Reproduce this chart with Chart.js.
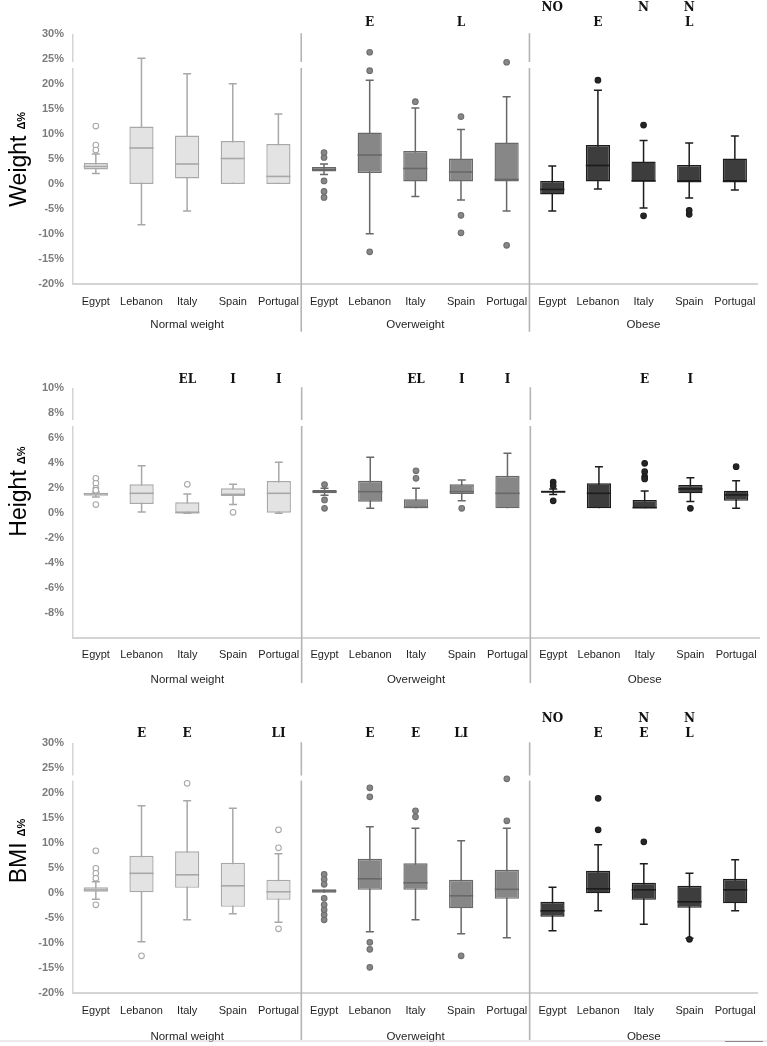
<!DOCTYPE html>
<html>
<head>
<meta charset="utf-8">
<script src="https://cdn.jsdelivr.net/npm/chart.js@4.4.1/dist/chart.umd.min.js"></script>
<style>
html, body { margin:0; padding:0; background:#fff; width:767px; height:1046px; overflow:hidden; }
.panel { position:absolute; left:0; width:767px; }
</style>
</head>
<body>
<div class="panel" style="top:0px;height:340px"><canvas id="c1"></canvas></div>
<div class="panel" style="top:340px;height:355px"><canvas id="c2"></canvas></div>
<div class="panel" style="top:695px;height:351px"><canvas id="c3"></canvas></div>
<script>
// ---------- categories ----------
const categories = ['Egypt', 'Lebanon', 'Italy', 'Spain', 'Portugal'];
const groupNames = ['Normal weight', 'Overweight', 'Obese'];
const yTitleUnit = 'Δ%';

// ---------- Weight Δ% ----------
const weightTitle = 'Weight';
const weightRange = [-20, 30, 5];
const weightTicks = ['-20%', '-15%', '-10%', '-5%', '0%', '5%', '10%', '15%', '20%', '25%', '30%'];
const weightMin    = [2.1, -8.2, -5.4, 0, 0,    1.9, -10.0, -2.5, -3.2, -5.4,   -5.4, -1.0, -4.8, -2.8, -1.2];
const weightQ1     = [2.9, 0, 1.1, 0, 0,        2.5, 2.2, 0.5, 0.5, 0.5,        -2.1, 0.5, 0.5, 0.5, 0.5];
const weightMedian = [3.5, 7.2, 4.0, 5.1, 1.5,  2.9, 5.8, 3.1, 2.4, 0.9,        -1.1, 3.7, 0.6, 0.5, 0.5];
const weightQ3     = [4.2, 11.5, 9.7, 8.6, 8.0, 3.4, 10.3, 6.6, 5.1, 8.3,       0.6, 7.8, 4.5, 3.8, 5.1];
const weightMax    = [6.0, 25.2, 22.1, 20.1, 14.0, 4.0, 20.8, 15.2, 10.9, 17.5, 3.6, 18.8, 8.7, 8.2, 9.6];
const weightOutliers = [
  [6.8, 7.8, 11.6], [], [], [], [],
  [6.3, 5.3, 0.6, -1.5, -2.7], [22.7, 26.4, -13.6], [16.5], [13.5, -6.3, -9.8], [24.4, -12.3],
  [], [20.8], [11.8, -6.4], [-5.3, -6.1], []
];
const weightSigTop    = ['', '', '', '', '',  '', '', '', '', '',   'NO', '', 'N', 'N', ''];
const weightSigBottom = ['', '', '', '', '',  '', 'E', '', 'L', '', '', 'E', '', 'L', ''];

// ---------- Height Δ% ----------
const heightTitle = 'Height';
const heightRange = [-10, 10, 2];
const heightTicks = ['', '-8%', '-6%', '-4%', '-2%', '0%', '2%', '4%', '6%', '8%', '10%'];
const heightMin    = [1.3, 0.1, 0, 0.7, 0,        1.45, 0.4, 0.4, 1.0, 0.4,    1.5, 0.4, 0.4, 0.95, 0.4];
const heightQ1     = [1.4, 0.75, 0.05, 1.38, 0.05, 1.6, 0.93, 0.4, 1.55, 0.4,  1.65, 0.4, 0.4, 1.6, 1.0];
const heightMedian = [1.55, 1.6, 0.05, 1.52, 1.6, 1.73, 1.73, 0.48, 1.73, 1.6, 1.73, 1.6, 0.45, 1.95, 1.47];
const heightQ3     = [1.65, 2.32, 0.88, 2.0, 2.58, 1.87, 2.6, 1.12, 2.32, 3.0, 1.8, 2.4, 1.07, 2.27, 1.81];
const heightMax    = [1.7, 3.8, 1.55, 2.32, 4.08, 2.0, 4.48, 2.0, 2.67, 4.8,   1.95, 3.73, 1.79, 2.85, 2.6];
const heightOutliers = [
  [1.85, 2.0, 2.4, 2.8, 0.7], [], [2.32], [0.08], [],
  [2.3, 1.07, 0.4], [], [2.8, 3.4], [0.4], [],
  [2.2, 2.5, 1.0], [], [2.75, 2.93, 3.33, 4.0], [0.4], [3.73]
];
const heightSigTop    = ['', '', '', '', '',  '', '', '', '', '',  '', '', '', '', ''];
const heightSigBottom = ['', '', 'EL', 'I', 'I',  '', '', 'EL', 'I', 'I',  '', '', 'E', 'I', ''];

// ---------- BMI Δ% ----------
const bmiTitle = 'BMI';
const bmiRange = [-20, 30, 5];
const bmiTicks = ['-20%', '-15%', '-10%', '-5%', '0%', '5%', '10%', '15%', '20%', '25%', '30%'];
const bmiMin    = [-1.2, -9.7, -5.3, -4.1, -5.8,  0.13, -7.7, -5.3, -8.1, -8.9,  -7.5, -3.5, -6.2, -9.0, -3.5];
const bmiQ1     = [0.33, 0.2, 1.1, -2.7, -1.3,    0.13, 0.7, 0.7, -3.0, -1.1,    -4.7, 0, -1.3, -2.9, -2.0];
const bmiMedian = [0.67, 4.0, 3.7, 1.5, 0.3,      0.47, 2.9, 2.1, -0.5, 0.8,     -3.5, 0.9, 0.7, -1.7, 0.7];
const bmiQ3     = [1.2, 7.5, 8.4, 6.1, 2.7,       0.8, 6.9, 6.0, 2.7, 4.7,       -1.7, 4.5, 2.1, 1.5, 2.9];
const bmiMax    = [2.3, 17.5, 18.5, 17.0, 7.9,    0.8, 13.3, 13.0, 10.5, 13.0,   1.2, 9.7, 5.9, 4.0, 6.7];
const bmiOutliers = [
  [3.0, 4.0, 5.0, 8.5, -2.3], [-12.5], [22.0], [], [9.1, 12.7, -7.1],
  [1.8, 2.8, 3.8, -1.0, -2.3, -3.3, -4.3, -5.3], [19.3, 21.1, -9.8, -11.2, -14.8], [15.3, 16.5], [-12.5], [14.5, 22.9],
  [], [12.7, 19.0], [10.3], [-9.2], []
];
const bmiSigTop    = ['', '', '', '', '',  '', '', '', '', '',  'NO', '', 'N', 'N', ''];
const bmiSigBottom = ['', 'E', 'E', '', 'LI',  '', 'E', 'E', 'LI', '',  '', 'E', 'E', 'L', ''];

// ---------- styles ----------
const groupFill   = ['#e3e3e3', '#878787', '#3d3d3d'];
const groupStroke = ['#a8a8a8', '#686868', '#1c1c1c'];
const outFill     = ['#ffffff', '#878787', '#262626'];
const outStroke   = ['#a8a8a8', '#6e6e6e', '#1c1c1c'];
const SANS = "'Liberation Sans', Arial, sans-serif";

const xLabels = groupNames.flatMap(() => categories);
const groupRow = groupNames.flatMap(name => categories.map((c, j) => (j === Math.floor(categories.length / 2) ? name : '')));

const panels = [
  { canvas: 'c1', H: 340, top: 34.3, bottom: 283.7, dc: 18, dg: 41.3, titleY: 206.7, sigRows: [-26, -11.3],
    breakY: [62, 68], sepDown: 48, bottomLine: null,
    title: weightTitle, range: weightRange, ticks: weightTicks,
    min: weightMin, q1: weightQ1, med: weightMedian, q3: weightQ3, max: weightMax, outliers: weightOutliers,
    sigTop: weightSigTop, sigBottom: weightSigBottom },
  { canvas: 'c2', H: 355, top: 48.3, bottom: 298.3, dc: 16.7, dg: 41.7, titleY: 196.7, sigRows: [-23, -8.3],
    breakY: [80, 86], sepDown: 44.7, bottomLine: null,
    title: heightTitle, range: heightRange, ticks: heightTicks,
    min: heightMin, q1: heightQ1, med: heightMedian, q3: heightQ3, max: heightMax, outliers: heightOutliers,
    sigTop: heightSigTop, sigBottom: heightSigBottom },
  { canvas: 'c3', H: 351, top: 48.3, bottom: 298.3, dc: 17.7, dg: 43.4, titleY: 188.3, sigRows: [-24.3, -9.3],
    breakY: [80.5, 85.5], sepDown: 46.7, bottomLine: 346,
    title: bmiTitle, range: bmiRange, ticks: bmiTicks,
    min: bmiMin, q1: bmiQ1, med: bmiMedian, q3: bmiQ3, max: bmiMax, outliers: bmiOutliers,
    sigTop: bmiSigTop, sigBottom: bmiSigBottom }
];

const grp = i => Math.floor(i / categories.length);

function boxPlugin(p, boxIndex) {
  return {
    id: 'boxplot_' + p.canvas,
    beforeDatasetsDraw(chart) {
      const { ctx, scales: { x, y } } = chart;
      ctx.save();
      ctx.lineWidth = 1.5;
      for (let i = 0; i < p.min.length; i++) {
        const cx = x.getPixelForValue(i);
        ctx.strokeStyle = groupStroke[grp(i)];
        ctx.beginPath();
        const yMin = y.getPixelForValue(p.min[i]);
        const yMax = y.getPixelForValue(p.max[i]);
        ctx.moveTo(cx, yMin); ctx.lineTo(cx, yMax);
        if (p.min[i] < p.q1[i]) { ctx.moveTo(cx - 4, yMin); ctx.lineTo(cx + 4, yMin); }
        if (p.max[i] > p.q3[i]) { ctx.moveTo(cx - 4, yMax); ctx.lineTo(cx + 4, yMax); }
        ctx.stroke();
      }
      ctx.restore();
    },
    afterDatasetDraw(chart, args) {
      if (args.index !== boxIndex) return;
      const { ctx, scales: { y } } = chart;
      const meta = chart.getDatasetMeta(boxIndex);
      ctx.save();
      ctx.lineWidth = 1.6;
      meta.data.forEach((el, i) => {
        const ym = y.getPixelForValue(p.med[i]);
        ctx.strokeStyle = groupStroke[grp(i)];
        ctx.beginPath();
        ctx.moveTo(el.x - el.width / 2, ym); ctx.lineTo(el.x + el.width / 2, ym);
        ctx.stroke();
      });
      ctx.restore();
    },
    afterDraw(chart) {
      const { ctx, chartArea: a, scales: { x } } = chart;
      ctx.save();
      // group separators
      const seps = [];
      for (let gi = 1; gi < groupNames.length; gi++) {
        const k = gi * categories.length;
        seps.push((x.getPixelForValue(k - 1) + x.getPixelForValue(k)) / 2);
      }
      ctx.strokeStyle = '#b4b4b4'; ctx.lineWidth = 1.6;
      seps.forEach(sx => { ctx.beginPath(); ctx.moveTo(sx, a.top - 1); ctx.lineTo(sx, a.bottom + p.sepDown); ctx.stroke(); });
      // axis break gaps
      ctx.fillStyle = '#ffffff';
      [a.left, ...seps].forEach(bx => ctx.fillRect(bx - 3, p.breakY[0], 6, p.breakY[1] - p.breakY[0]));
      // significance letters
      ctx.font = "bold 12px 'DejaVu Serif', serif";
      ctx.fillStyle = '#111'; ctx.textAlign = 'center'; ctx.textBaseline = 'middle';
      for (let i = 0; i < p.sigTop.length; i++) {
        const cx = x.getPixelForValue(i);
        if (p.sigTop[i]) ctx.fillText(p.sigTop[i], cx, a.top + p.sigRows[0]);
        if (p.sigBottom[i]) ctx.fillText(p.sigBottom[i], cx, a.top + p.sigRows[1]);
      }
      // bottom rule
      if (p.bottomLine) {
        ctx.strokeStyle = '#d6d6d6'; ctx.lineWidth = 1;
        ctx.beginPath(); ctx.moveTo(0, p.bottomLine); ctx.lineTo(767, p.bottomLine); ctx.stroke();
        ctx.strokeStyle = '#8a8a8a';
        ctx.beginPath(); ctx.moveTo(725, p.bottomLine + 0.5); ctx.lineTo(763, p.bottomLine + 0.5); ctx.stroke();
      }
      // y title
      ctx.translate(26, p.titleY);
      ctx.rotate(-Math.PI / 2);
      ctx.textAlign = 'left'; ctx.textBaseline = 'alphabetic'; ctx.fillStyle = '#000';
      ctx.font = '23px ' + SANS;
      ctx.fillText(p.title, 0, 0);
      const w = ctx.measureText(p.title).width;
      ctx.font = 'bold 11px ' + SANS;
      ctx.fillText(yTitleUnit, w + 6, -1.5);
      ctx.restore();
    }
  };
}

function build(p) {
  const maxOut = Math.max(...p.outliers.map(o => o.length));
  const datasets = [];
  for (let k = 0; k < maxOut; k++) {
    datasets.push({
      type: 'line', showLine: false,
      data: p.outliers.map(o => (k < o.length ? o[k] : null)),
      pointRadius: 2.8, pointHoverRadius: 2.8, pointBorderWidth: 1.1,
      pointBackgroundColor: xLabels.map((_, i) => outFill[grp(i)]),
      pointBorderColor: xLabels.map((_, i) => outStroke[grp(i)])
    });
  }
  const boxIndex = datasets.length;
  datasets.push({
    type: 'bar',
    data: p.q1.map((v, i) => [v, p.q3[i]]),
    backgroundColor: xLabels.map((_, i) => groupFill[grp(i)]),
    borderColor: xLabels.map((_, i) => groupStroke[grp(i)]),
    borderWidth: 1.4, borderSkipped: false,
    barPercentage: 0.53, categoryPercentage: 1.0, grouped: false
  });
  const h1 = 26;
  new Chart(document.getElementById(p.canvas), {
    type: 'bar',
    data: { labels: xLabels, datasets },
    options: {
      responsive: true, maintainAspectRatio: false, animation: false, events: [],
      layout: { padding: { top: p.top, right: 8, left: 0, bottom: 0 } },
      plugins: { legend: { display: false }, tooltip: { enabled: false } },
      scales: {
        x: {
          type: 'category', position: 'bottom', offset: true, weight: 0,
          grid: { display: false, drawTicks: false },
          border: { display: true, color: '#d4d4d4', width: 2 },
          ticks: { autoSkip: false, maxRotation: 0, minRotation: 0, padding: p.dc - 6.6,
                   color: '#1f1f1f', font: { family: SANS, size: 11 } },
          afterFit: s => { s.height = h1; }
        },
        x2: {
          type: 'category', labels: groupRow, position: 'bottom', offset: true, weight: 1, bounds: 'ticks',
          grid: { display: false, drawTicks: false }, border: { display: false },
          ticks: { autoSkip: false, maxRotation: 0, minRotation: 0, padding: p.dg - h1 - 6.9,
                   color: '#1f1f1f', font: { family: SANS, size: 11.5 } },
          afterFit: s => { s.height = p.H - p.bottom - h1; }
        },
        y: {
          min: p.range[0], max: p.range[1],
          grid: { display: false, drawTicks: false },
          border: { display: true, color: '#d4d4d4', width: 1.5 },
          ticks: { stepSize: p.range[2], padding: 9, color: '#7c7c7c',
                   font: { family: SANS, size: 11, weight: 'bold' },
                   callback: (v, i) => (p.ticks[i] !== undefined ? p.ticks[i] : '') },
          afterFit: s => { s.width = 73; }
        }
      }
    },
    plugins: [boxPlugin(p, boxIndex)]
  });
}

panels.forEach(build);
</script>
</body>
</html>
